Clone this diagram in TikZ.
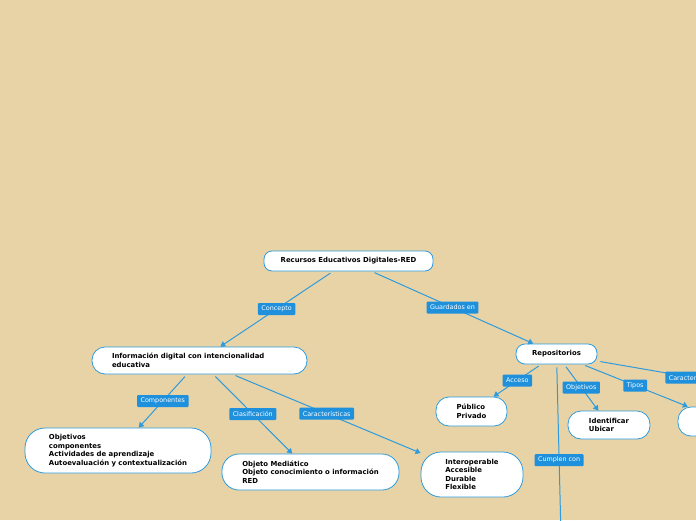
\documentclass[tikz,border=0pt]{standalone}
\usepackage{fontspec}
\setmainfont{DejaVu Sans}
\usetikzlibrary{arrows.meta}
\definecolor{bg}{HTML}{E8D3A7}
\definecolor{edgeblue}{HTML}{2E9BDC}
\definecolor{labelblue}{HTML}{1E90DC}
\tikzset{
  box/.style={draw=edgeblue, line width=0.8pt, fill=white, align=left,
    font=\fontsize{6.9}{8.6}\selectfont\bfseries, inner ysep=2pt},
  conn/.style={draw=edgeblue, line width=1pt, shorten <=3pt,
    -{Triangle[length=5pt,width=6pt]}},
  lbl/.style={fill=labelblue, text=white, rounded corners=1pt,
    font=\fontsize{6.4}{7}\selectfont, inner xsep=3.5pt, inner ysep=2pt,
    minimum height=12pt}
}
\begin{document}
\begin{tikzpicture}[x=1pt,y=-1pt]
\fill[bg] (0,0) rectangle (696,520);
\useasboundingbox (0,0) rectangle (696,520);
\clip (0,0) rectangle (696,520);
% nodes
\node[box, minimum width=169pt, minimum height=20pt, rounded corners=8pt] (root) at (348.5,261) {Recursos Educativos Digitales-RED};
\node[box, text width=175pt, inner xsep=20pt, minimum height=27pt, rounded corners=13pt] (info) at (199.5,360.5) {Información digital con intencionalidad\\educativa};
\node[box, minimum width=186pt, minimum height=45pt, rounded corners=20pt] (obj) at (118,450.5) {Objetivos\\componentes\\Actividades de aprendizaje\\Autoevaluación y contextualización};
\node[box, minimum width=177pt, minimum height=36pt, rounded corners=17pt] (med) at (310.5,472) {Objeto Mediático\\Objeto conocimiento o información\\RED};
\node[box, minimum width=102pt, minimum height=45pt, rounded corners=20pt] (inter) at (472,474.5) {Interoperable\\Accesible\\Durable\\Flexible};
\node[box, minimum width=81pt, minimum height=20pt, rounded corners=9pt] (repo) at (556.5,354) {Repositorios};
\node[box, minimum width=71pt, minimum height=29pt, rounded corners=13pt] (pub) at (471.5,411.5) {Público\\Privado};
\node[box, minimum width=82pt, minimum height=28pt, rounded corners=13pt] (ident) at (609,425) {Identificar\\Ubicar};
\node[box, minimum width=94pt, minimum height=29pt, rounded corners=13pt] (tipos) at (725,421.5) {};
\coordinate (carac) at (788,394);
\coordinate (cumplen) at (561.5,556);
% connectors
\draw[conn] (root) -- node[lbl]{Concepto} (info);
\draw[conn] (root) -- node[lbl]{Guardados en} (repo);
\draw[conn] (info) -- node[lbl]{Componentes} (obj);
\draw[conn] (info) -- node[lbl]{Clasificación} (med);
\draw[conn] (info) -- node[lbl]{Características} (inter);
\draw[conn] (repo) -- node[lbl]{Acceso} (pub);
\draw[conn] (repo) -- node[lbl]{Objetivos} (ident);
\draw[conn] (repo) -- node[lbl]{Tipos} (tipos);
\draw[conn] (repo) -- node[lbl]{Características} (carac);
\draw[conn] (repo) -- node[lbl]{Cumplen con} (cumplen);
\end{tikzpicture}
\end{document}
